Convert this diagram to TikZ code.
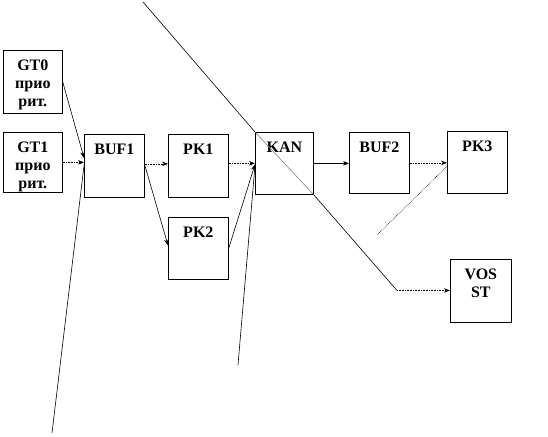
\documentclass[tikz,border=0pt]{standalone}
\usepackage{fontspec}
\setmainfont{Liberation Serif}
\usetikzlibrary{arrows.meta,calc}
\begin{document}
\begin{tikzpicture}[x=1pt,y=-1pt,>={Stealth[length=6pt,width=4.5pt]},
 box/.style={draw,line width=0.7pt,anchor=north west,minimum width=60pt,minimum height=63pt,inner sep=0pt,
   label={[anchor=north,inner sep=0pt,yshift=-10pt,align=center,font=\fontsize{16}{18}\selectfont\bfseries]north:#1}},
 wire/.style={line width=0.6pt},
 dwire/.style={wire,densely dotted}]
\useasboundingbox (0,0) rectangle (548,436);
% blocks
\node[box={GT0\\прио\\рит.},minimum width=59pt] (gt0) at (3,50) {};
\node[box={GT1\\прио\\рит.},minimum width=59pt,minimum height=60pt] (gt1) at (3,132) {};
\node[box=BUF1] (buf1) at (84,134) {};
\node[box=PK1] (pk1) at (168,134) {};
\node[box=PK2,minimum height=62pt] (pk2) at (168,217) {};
\node[box=KAN,minimum width=58pt,minimum height=62pt] (kan) at (255,132) {};
\node[box=BUF2,minimum height=61pt] (buf2) at (349,132) {};
\node[box=PK3,minimum height=62pt] (pk3) at (447,131) {};
\node[box={VOS\\ST},minimum width=61pt] (vosst) at (450,259) {};
% free ends
\coordinate (ctop) at (143,2);
\coordinate (cbend) at (397,290.5);
\coordinate (clow1) at (52,433);
\coordinate (clow2) at (238,365);
\coordinate (clow3) at (377,235);
% links
\draw[wire,->] (gt0.east) -- ([yshift=8pt]buf1.west);
\draw[dwire,->] (gt1.east) -- (gt1.east -| buf1.west);
\draw[wire] (clow1) -- (buf1.west);
\draw[dwire,->] ([yshift=2pt]buf1.east) -- ([yshift=2pt]pk1.west);
\draw[wire,->] ([yshift=1pt]buf1.east) -- ([yshift=3pt]pk2.west);
\draw[dwire,->] (kan.west -| pk1.east) -- (kan.west);
\draw[wire,->] (pk2.east) -- ([yshift=-1pt]kan.west);
\draw[wire] (clow2) -- ([yshift=-2pt]kan.west);
\draw[wire,->] (kan.east) -- (kan.east -| buf2.west);
\draw[dwire,->] (buf2.east) -- (buf2.east -| pk3.west);
\draw[dwire] (clow3) -- ([yshift=-4pt]pk3.west);
\draw[wire] (ctop) -- (kan.north west);
\draw[wire,gray] (kan.north west) -- (kan.south east);
\draw[wire] (kan.south east) -- (cbend);
\draw[dwire,->] (cbend) -- (cbend -| vosst.west);
\end{tikzpicture}
\end{document}
